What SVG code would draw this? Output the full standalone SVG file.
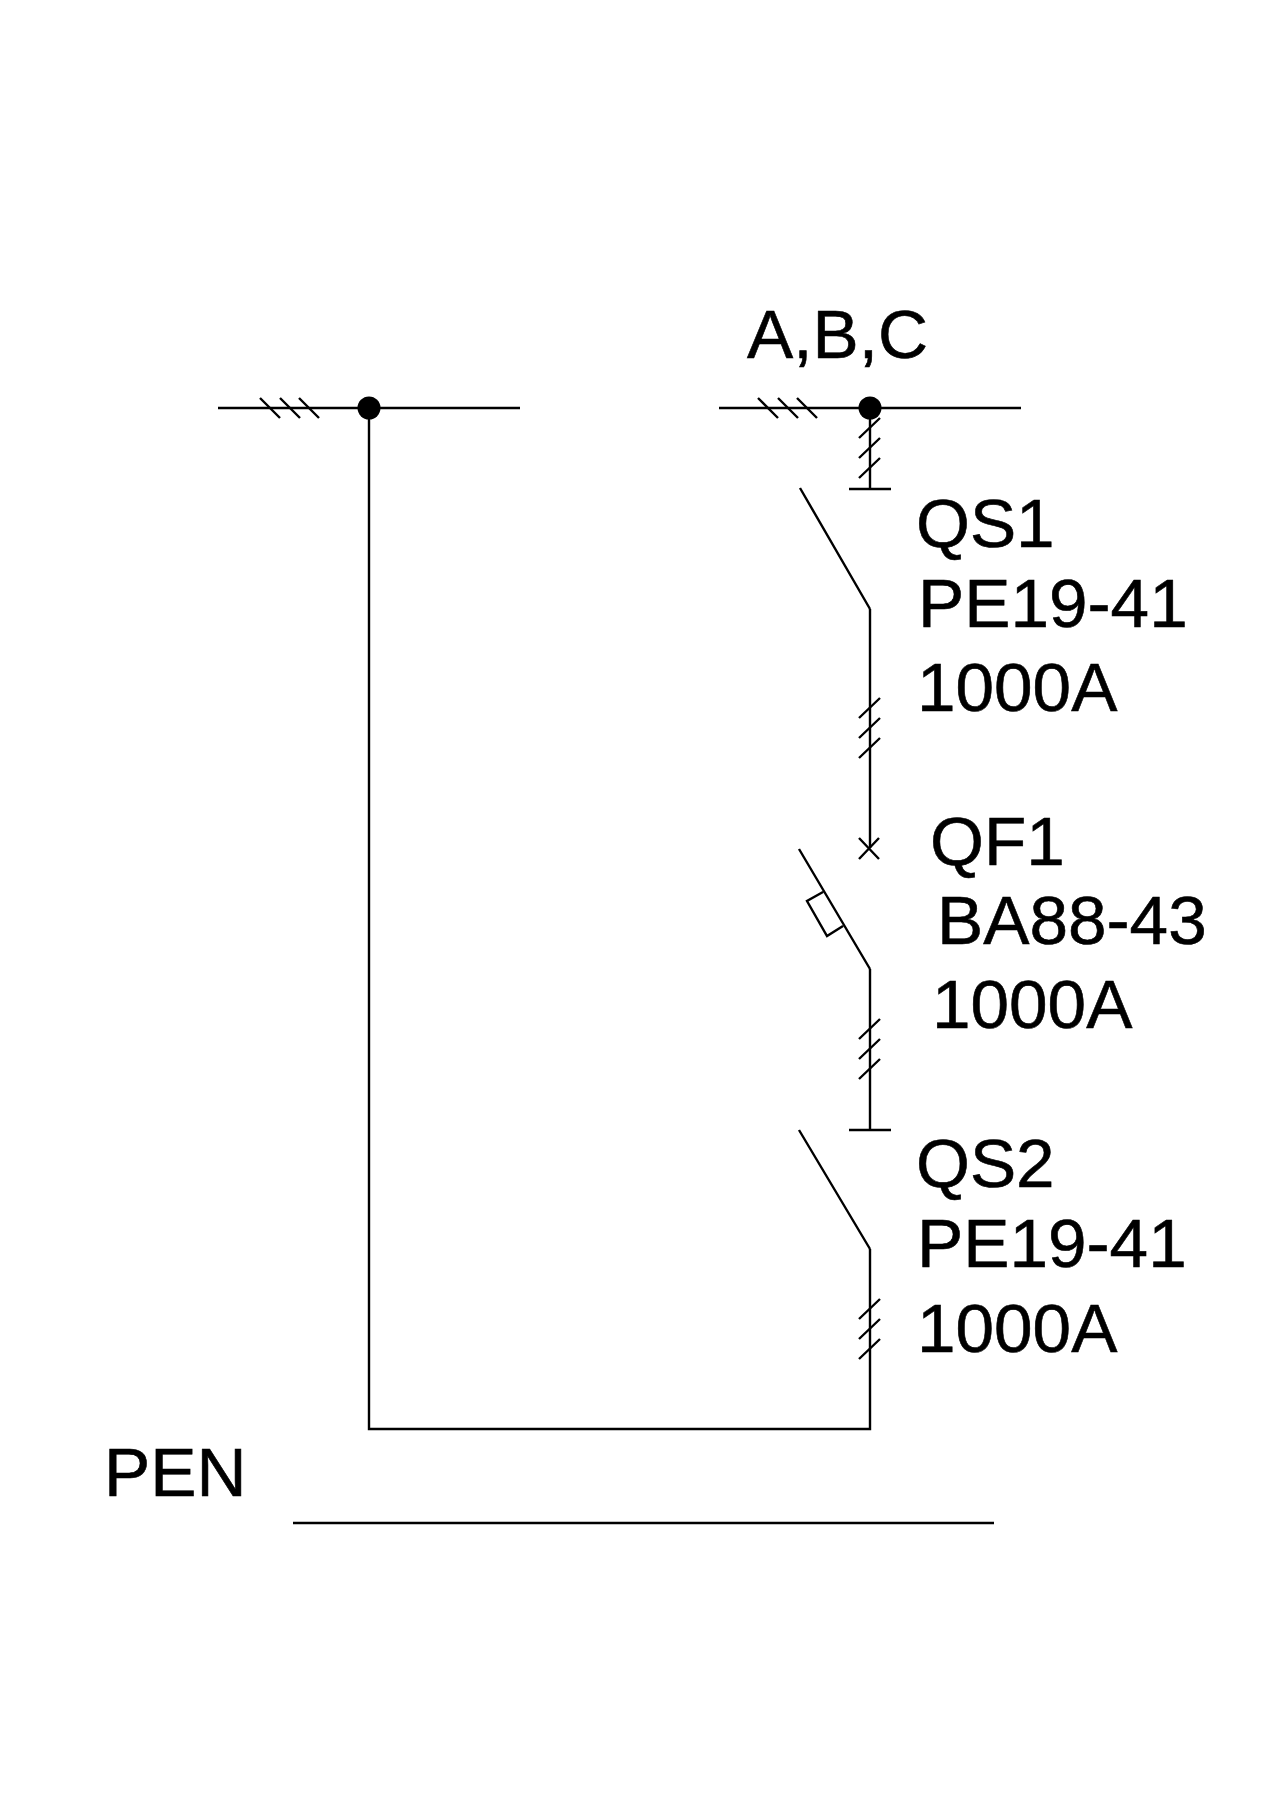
<svg xmlns="http://www.w3.org/2000/svg" width="1280" height="1810" viewBox="0 0 1280 1810">
<style>
.w{fill:none;stroke:#000;stroke-width:2.4;stroke-linejoin:miter}
.t{font-family:"Liberation Sans",Arial,sans-serif;font-size:69.3px;fill:#000;stroke:#000;stroke-width:.6}
</style>
<defs>
<path id="ticksV" class="w" d="M-11 20L10 0M-11 40L10 20M-11 60L10 40"/>
<path id="ticksH" class="w" d="M0 -10L20 10M20 -10L40 10M39 -10L59 10"/>
</defs>
<rect width="1280" height="1810" fill="#fff"/>
<g id="connectors">
<path id="bus-left" class="w" d="M218 408H520"/>
<path id="bus-right" class="w" d="M719 408H1021"/>
<path id="riser" class="w" d="M369 408V1429H870V1249"/>
<path id="pen-line" class="w" d="M293 1523H994"/>
<path id="feed-qs1" class="w" d="M870 408V488"/>
<path id="qs1-qf1" class="w" d="M870 609V848"/>
<path id="qf1-qs2" class="w" d="M870 969V1129"/>
<use href="#ticksH" x="260" y="408"/>
<use href="#ticksH" x="758" y="408"/>
<use href="#ticksV" x="870" y="418"/>
<use href="#ticksV" x="870" y="698"/>
<use href="#ticksV" x="870" y="1019"/>
<use href="#ticksV" x="870" y="1299"/>
</g>
<g id="node-left"><circle cx="369" cy="408" r="11.5"/></g>
<g id="node-right"><circle cx="870" cy="408" r="11.5"/></g>
<g id="QS1"><path class="w" d="M849 489H891M800 488L870 609"/>
<text class="t" x="916" y="547">QS1</text><text class="t" x="918" y="627">PE19-41</text><text class="t" x="917" y="711">1000A</text></g>
<g id="QF1"><path class="w" d="M859 838L879 859M879 838L859 859M799 849L870 969M823 892L807 901L827 936L843 926"/>
<text class="t" x="930" y="865">QF1</text><text class="t" x="937" y="944">BA88-43</text><text class="t" x="932" y="1028">1000A</text></g>
<g id="QS2"><path class="w" d="M849 1130H891M799 1130L870 1249"/>
<text class="t" x="916" y="1187">QS2</text><text class="t" x="917" y="1267">PE19-41</text><text class="t" x="917" y="1352">1000A</text></g>
<g id="label-abc"><text class="t" x="747" y="358">A,B,C</text></g>
<g id="label-pen"><text class="t" x="104" y="1496">PEN</text></g>
</svg>
